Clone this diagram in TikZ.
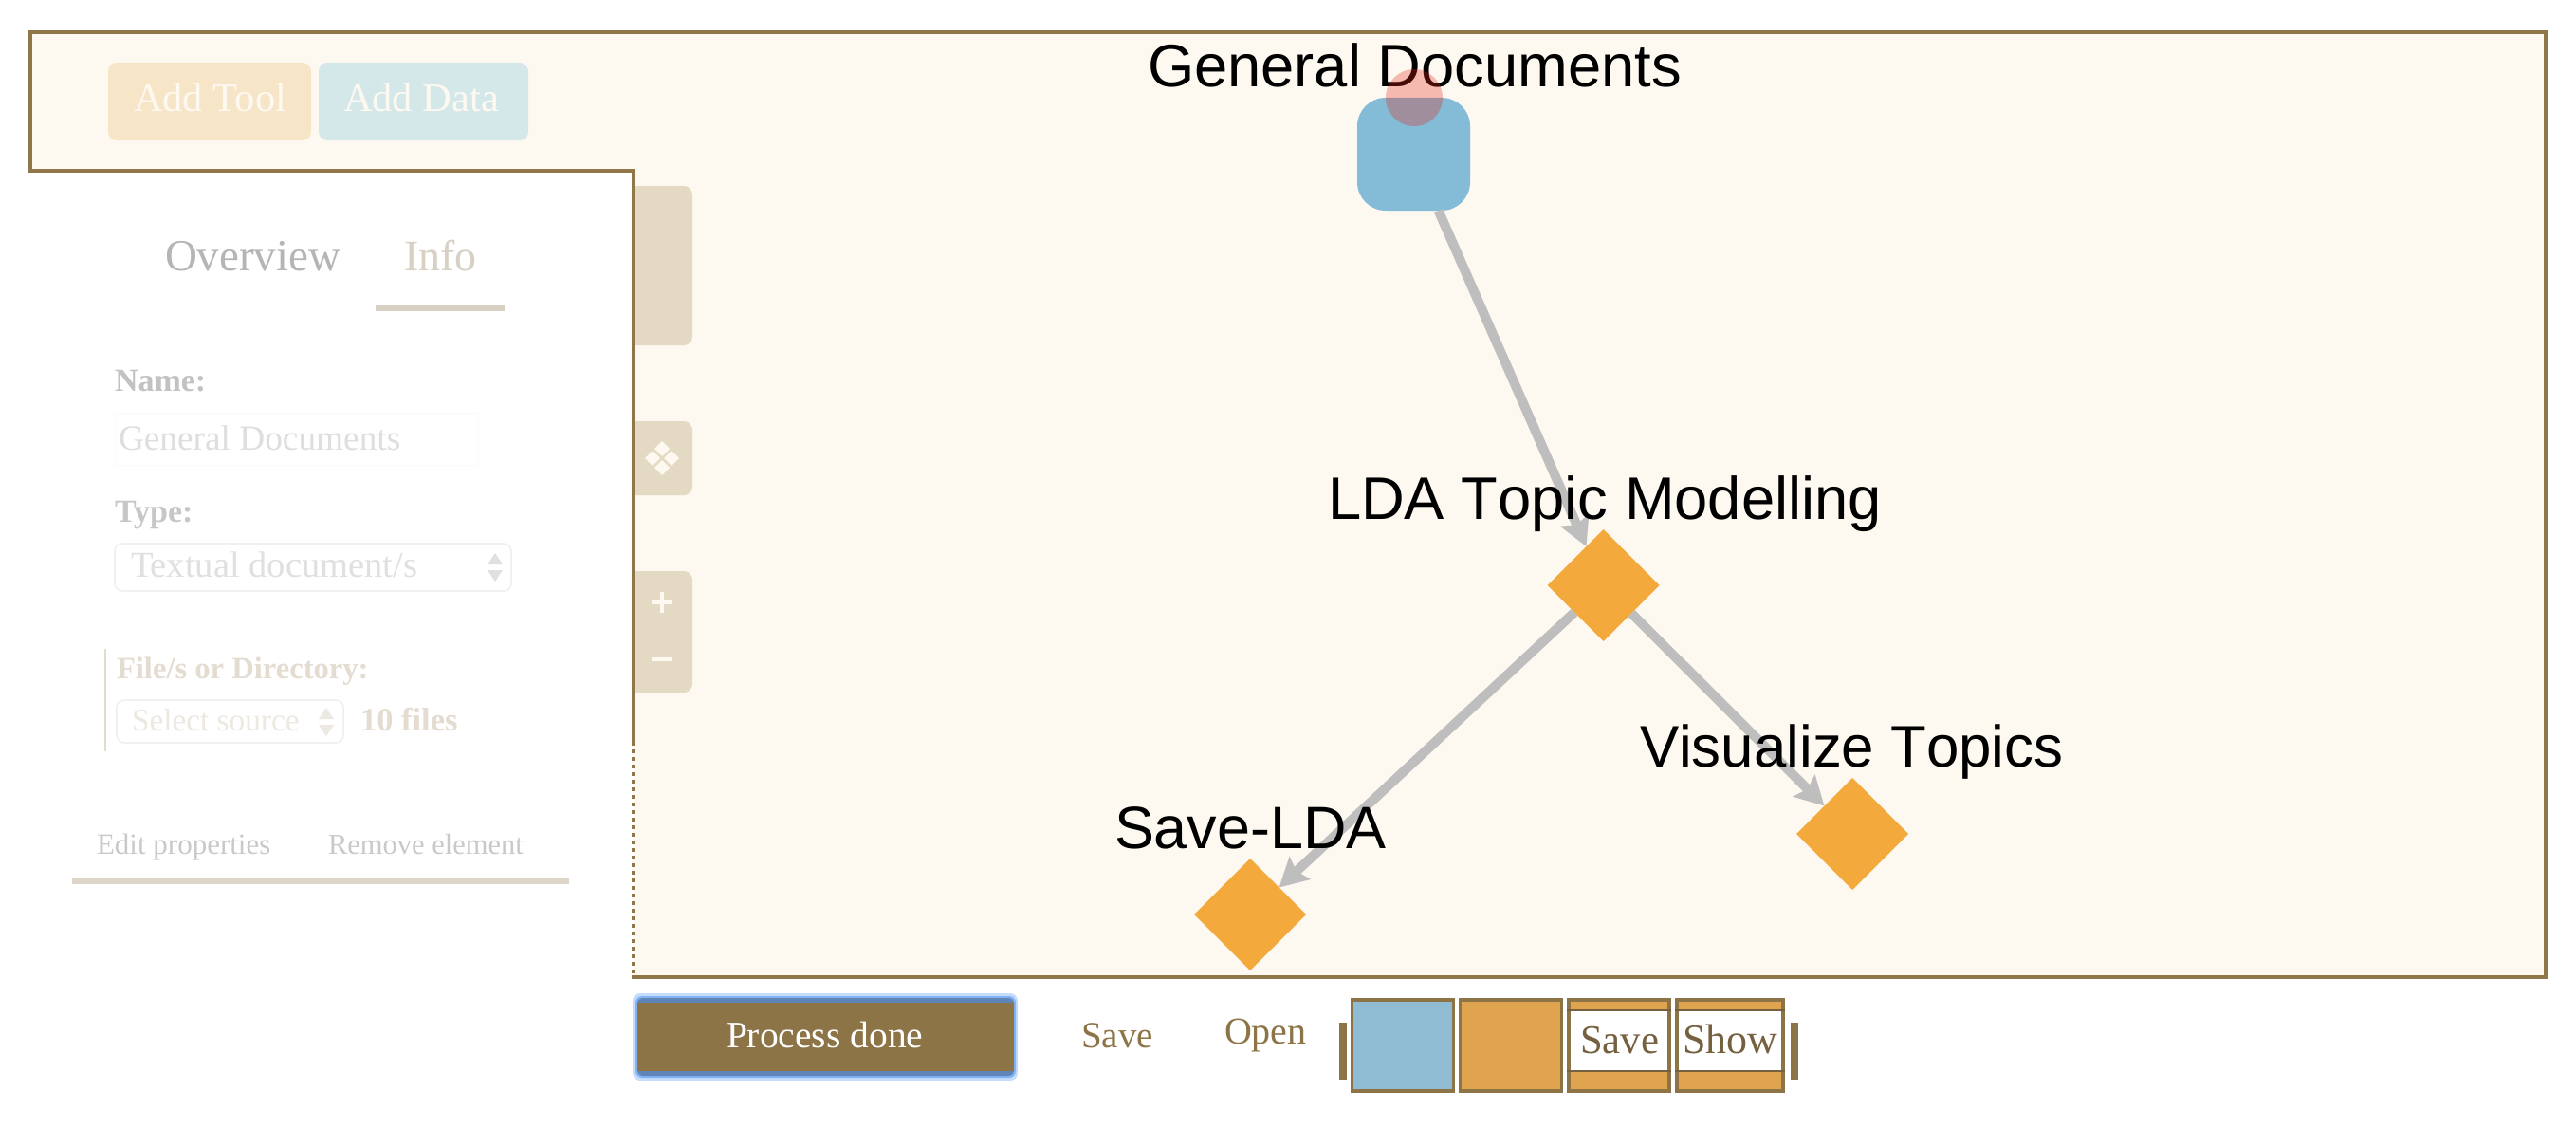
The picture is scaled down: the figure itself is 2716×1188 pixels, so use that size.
\documentclass[tikz,border=0pt]{standalone}
\usepackage{fontspec}
\setmainfont{Liberation Serif}
\newfontfamily\labelfont[Kerning=Off]{Liberation Sans}
\usetikzlibrary{shapes.geometric,arrows.meta}
\definecolor{framec}{HTML}{8F7749}
\definecolor{canvasc}{HTML}{FDF9F1}
\definecolor{sidec}{HTML}{E4D9C3}
\definecolor{edgec}{HTML}{BEBEBE}
\definecolor{toolc}{HTML}{F3A93C}
\definecolor{datac}{HTML}{84BBD7}
\definecolor{brownc}{HTML}{8C7447}
\definecolor{darkbrownc}{HTML}{75603F}
\definecolor{addtoolc}{HTML}{F7E5C8}
\definecolor{adddatac}{HTML}{D5E8E9}
\definecolor{infoc}{HTML}{D8D0C2}
\definecolor{rulec}{HTML}{DDD5C8}
\definecolor{fileline}{HTML}{E4DCCB}
\definecolor{filetext}{HTML}{E4DCD0}
\definecolor{filefaint}{HTML}{EDE8E0}
\definecolor{ringa}{HTML}{C5DCFB}
\definecolor{ringb}{HTML}{82B4F5}
\definecolor{ringc}{HTML}{5F85B8}
\definecolor{tbblue}{HTML}{8FBBD3}
\definecolor{tborange}{HTML}{E0A44E}
\definecolor{redc}{HTML}{E6261A}
\tikzset{
  x=1pt,y=-1pt,
  txt/.style={inner sep=0pt,outer sep=0pt,anchor=base west},
  fs/.style={font=\fontsize{#1}{#1}\selectfont},
  bfs/.style={font=\fontsize{#1}{#1}\selectfont\bfseries},
  lab/.style={inner sep=0pt,outer sep=0pt,anchor=base west,text=black,font=\labelfont\fontsize{#1}{#1}\selectfont},
  tooldiamond/.style={diamond,aspect=1,fill=toolc,inner sep=0pt,outer sep=0pt,minimum width=118pt,minimum height=118pt},
  datanode/.style={rectangle,rounded corners=30pt,fill=datac,inner sep=0pt,outer sep=0pt,minimum width=119pt,minimum height=119pt},
  flowedge/.style={draw=edgec,line width=10pt,-{Stealth[length=30pt,width=32pt,inset=5pt]}},
  btn/.style={rounded corners=9pt},
  fieldbox/.style={draw=#1,line width=1.6pt,rounded corners=8pt},
}
\begin{document}
\begin{tikzpicture}
\useasboundingbox (0,0) rectangle (2716,1188);
\fill[white] (0,0) rectangle (2716,1188);
% canvas
\fill[canvasc] (32,34) -- (2684,34) -- (2684,1030) -- (668,1030) -- (668,180) -- (32,180) -- cycle;
% side buttons
\fill[sidec,btn] (650,196) rectangle (730,364);
\fill[sidec,btn] (650,444) rectangle (730,522);
\fill[sidec,btn] (650,602) rectangle (730,730);
\fill[white] (640,190) rectangle (666,740);
% frame
\draw[framec,line width=4pt] (668,782) -- (668,180) -- (32,180) -- (32,34) -- (2684,34) -- (2684,1030) -- (666,1030);
\draw[framec,line width=4pt,dash pattern=on 4pt off 4pt] (668,782) -- (668,1026);
% zoom and layout icons
\foreach \cx/\cy in {698/473,688/483,708/483,698/493}
  \fill[canvasc] (\cx-8,\cy) -- (\cx,\cy-8) -- (\cx+8,\cy) -- (\cx,\cy+8) -- cycle;
\fill[canvasc] (687,633) rectangle (709,637);
\fill[canvasc] (696,624) rectangle (700,646);
\fill[canvasc] (687,693) rectangle (709,697);
% top buttons
\fill[addtoolc,btn] (114,66) rectangle (328,148);
\fill[adddatac,btn] (336,66) rectangle (557,148);
\node[txt,fs=42.5,text=canvasc] (addtool) at (141,118) {Add Tool};
\node[txt,fs=42.5,text=canvasc] (adddata) at (362,118) {Add Data};
% left panel
\node[txt,fs=47,text=black!29] (overview) at (174,285) {Overview};
\node[txt,fs=46,text=infoc] (info) at (426,285) {Info};
\fill[infoc] (396,322) rectangle (532,328);
\node[txt,bfs=34,text=black!24] (namelab) at (121,412) {Name:};
\draw[black!2,line width=1pt] (121,435) rectangle (504,490);
\node[txt,fs=37.3,text=black!13] (nameval) at (125,474) {General Documents};
\node[txt,bfs=34,text=black!22] (typelab) at (121,550) {Type:};
\draw[fieldbox=black!6] (121,573) rectangle (539,623);
\node[txt,fs=38.5,text=black!12] (typeval) at (138,608) {Textual document/s};
\fill[black!12] (522,583) -- (530,595) -- (514,595) -- cycle;
\fill[black!12] (522,613) -- (530,601) -- (514,601) -- cycle;
\draw[fileline,line width=2pt] (110.5,684) -- (110.5,792);
\node[txt,bfs=32.6,text=filetext] (filelab) at (123,715) {File/s or Directory:};
\draw[fieldbox=black!6] (123,738) rectangle (362,783);
\node[txt,fs=33.3,text=filefaint] (fileval) at (139,770) {Select source};
\fill[filefaint] (344,746) -- (352,758) -- (336,758) -- cycle;
\fill[filefaint] (344,776) -- (352,764) -- (336,764) -- cycle;
\node[txt,bfs=34.5,text=filetext] (filecount) at (380,770) {10 files};
\node[txt,fs=31,text=black!21] (editprop) at (102,900) {Edit properties};
\node[txt,fs=30.5,text=black!21] (removeel) at (346,900) {Remove element};
\fill[rulec] (76,926) rectangle (600,932);
% bottom toolbar
\fill[ringa,rounded corners=8pt] (667,1047) rectangle (1073,1139);
\fill[ringb,rounded corners=7pt] (670,1050) rectangle (1071,1136);
\fill[ringc,rounded corners=6pt] (672,1052) rectangle (1069,1134);
\fill[brownc] (672,1057) rectangle (1069,1129);
\node[txt,fs=39.5,text=white] (processdone) at (766,1104) {Process done};
\node[txt,fs=39,text=brownc] (savebtn) at (1140,1104) {Save};
\node[txt,fs=40,text=brownc] (openbtn) at (1291,1100) {Open};
\fill[brownc] (1412,1078) rectangle (1420,1138);
\fill[brownc] (1888,1078) rectangle (1896,1138);
\fill[brownc] (1424,1052) rectangle (1534,1152);
\fill[tbblue] (1427,1056) rectangle (1531,1148);
\fill[brownc] (1538,1052) rectangle (1648,1152);
\fill[tborange] (1541,1056) rectangle (1645,1148);
\fill[brownc] (1652,1052) rectangle (1762,1152);
\fill[tborange] (1656,1056) rectangle (1758,1148);
\fill[white] (1656,1066) rectangle (1758,1128);
\fill[darkbrownc] (1652,1064) rectangle (1762,1066);
\fill[darkbrownc] (1652,1128) rectangle (1762,1130);
\fill[brownc] (1766,1052) rectangle (1882,1152);
\fill[tborange] (1770,1056) rectangle (1878,1148);
\fill[white] (1770,1066) rectangle (1878,1128);
\fill[darkbrownc] (1766,1064) rectangle (1882,1066);
\fill[darkbrownc] (1766,1128) rectangle (1882,1130);
\node[txt,fs=42.7,text=darkbrownc] (savetool) at (1666,1110) {Save};
\node[txt,fs=44,text=darkbrownc] (showtool) at (1774,1110) {Show};
% graph
\node[datanode] (gd) at (1490.5,162.5) {};
\node[tooldiamond] (lda) at (1690.5,617) {};
\node[tooldiamond] (vis) at (1953,879) {};
\node[tooldiamond] (sav) at (1318,964) {};
\draw[flowedge] (gd) -- (lda);
\draw[flowedge] (lda) -- (vis);
\draw[flowedge] (lda) -- (sav);
\node[lab=63.3] (gdl) at (1210,92) {General Documents};
\node[lab=63.3] (ldal) at (1400,547) {LDA Topic Modelling};
\node[lab=61.8] (visl) at (1729,808) {Visualize Topics};
\node[lab=62.9] (savl) at (1175,894) {Save-LDA};
\fill[redc,opacity=.3] (1491,103) circle (30);
\end{tikzpicture}
\end{document}
